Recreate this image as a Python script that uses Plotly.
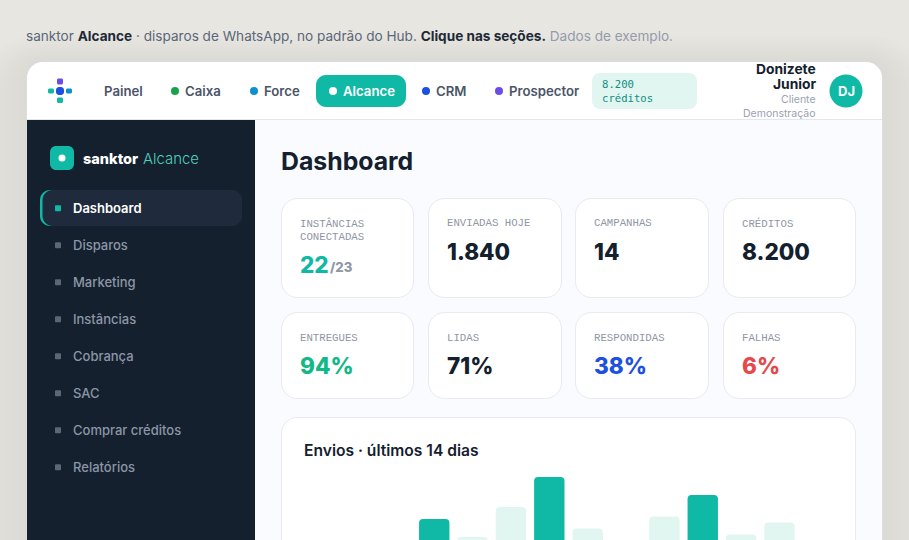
import plotly.graph_objects as go

W, H = 909, 540

# ---- data ----
dias = [f"D{i}" for i in range(1, 15)]
envios = [30, 44, 40, 65, 50, 75, 100, 57, 42, 67, 85, 52, 62, 38]
dias_destaque = ["D4", "D7", "D11"]
nav_itens = ["Painel", "Caixa", "Force", "Alcance", "CRM", "Prospector"]
menu_itens = ["Dashboard", "Disparos", "Marketing", "Instâncias", "Cobrança", "SAC", "Comprar créditos", "Relatórios"]
kpi_rotulos = [["INSTÂNCIAS<br>CONECTADAS", "ENVIADAS HOJE", "CAMPANHAS", "CRÉDITOS"],
               ["ENTREGUES", "LIDAS", "RESPONDIDAS", "FALHAS"]]
kpi_valores = [["22", "1.840", "14", "8.200"], ["94%", "71%", "38%", "6%"]]

BODY = "Inter"
HEAD = "Inter"
MONO = "DejaVu Sans Mono"
LABEL = "Liberation Mono"
TEAL = "#10b9a5"
INK = "#14202e"

shapes, notes = [], []

def px(x): return x / W
def py(y): return 1 - y / H

def rrect(x0, y0, x1, y1, r, fill, line=None, lw=1, opacity=None):
    k = r * 0.45
    p = (f"M{px(x0+r)},{py(y0)} L{px(x1-r)},{py(y0)} "
         f"C{px(x1-k)},{py(y0)} {px(x1)},{py(y0+k)} {px(x1)},{py(y0+r)} "
         f"L{px(x1)},{py(y1-r)} C{px(x1)},{py(y1-k)} {px(x1-k)},{py(y1)} {px(x1-r)},{py(y1)} "
         f"L{px(x0+r)},{py(y1)} C{px(x0+k)},{py(y1)} {px(x0)},{py(y1-k)} {px(x0)},{py(y1-r)} "
         f"L{px(x0)},{py(y0+r)} C{px(x0)},{py(y0+k)} {px(x0+k)},{py(y0)} {px(x0+r)},{py(y0)} Z")
    s = dict(type="path", xref="paper", yref="paper", path=p, fillcolor=fill, layer="below",
             line=dict(color=line, width=lw) if line else dict(width=0))
    if opacity is not None:
        s["opacity"] = opacity
    shapes.append(s)

def rect(x0, y0, x1, y1, fill):
    shapes.append(dict(type="rect", xref="paper", yref="paper", x0=px(x0), x1=px(x1), y0=py(y1), y1=py(y0),
                       fillcolor=fill, line=dict(width=0), layer="below"))

def dot(cx, cy, r, fill):
    shapes.append(dict(type="circle", xref="paper", yref="paper", x0=px(cx-r), x1=px(cx+r), y0=py(cy+r), y1=py(cy-r),
                       fillcolor=fill, line=dict(width=0), layer="below"))

def text(x, y, s, size, color, family=BODY, weight=400, anchor="left"):
    notes.append(dict(x=px(x), y=py(y), xref="paper", yref="paper", text=s, showarrow=False,
                      xanchor=anchor, yanchor="middle", align=anchor, borderpad=0, borderwidth=0,
                      font=dict(family=family, size=size, color=color, weight=weight)))

# page shadow
for i in range(12):
    g = 60 - i * 5
    rrect(27 - g, 62 - g * 0.45, 882 + g, 700, 16 + g, "#5b5a50", opacity=0.0085)

# intro line
text(26, 36, ("<span style='color:#5b6678'>sanktor </span><b style='color:#1f2937'>Alcance</b>"
              "<span style='color:#5b6678'> · disparos de WhatsApp, no padrão do Hub. </span>"
              "<b style='color:#1f2937'>Clique nas seções.</b><span style='color:#949bab'> Dados de exemplo.</span>"),
     13.6, "#5b6678")

# app frame
rrect(26.5, 61.5, 882.5, 640, 16.5, "#dde1e8")
rrect(27, 62, 882, 640, 16, "#ffffff")
rect(27, 119, 882, 120, "#e3e7ec")
rect(255, 120, 882, 540, "#fafbfe")
rect(27, 120, 255, 540, INK)

# top bar logo
rrect(57, 78.5, 63, 84.5, 1.5, "#6c4ce8")
rrect(48, 88.5, 54, 93.5, 1.5, TEAL)
rrect(56, 87, 64, 95, 3, "#1d4fe0")
rrect(66, 88.5, 72, 93.5, 1.5, "#0e8fd0")
rrect(57, 97.5, 63, 103, 1.5, TEAL)

# nav
rrect(316, 75, 406, 107, 10, TEAL)
nav_x = [104, 185, 264, 343, 436, 509]
nav_dot = [None, "#16a34a", "#0e8fd0", "#ffffff", "#1d4fe0", "#6c4ce8"]
for item, x, c in zip(nav_itens, nav_x, nav_dot):
    text(x, 91, item, 13.2, "#ffffff" if item == "Alcance" else "#4b5568", weight=600)
    if c:
        dot(x - 10, 91, 4, c)

# credits chip
rrect(592, 73, 697, 109, 8, "#e1f5f1")
text(602, 84.5, "8.200", 10.6, "#0f8f7f", MONO)
text(602, 98.5, "créditos", 10.6, "#0f8f7f", MONO)

# user
text(816, 68.5, "Donizete", 13.8, INK, weight=700, anchor="right")
text(816, 84.5, "Junior", 13.8, INK, weight=700, anchor="right")
text(816, 99.5, "Cliente", 10.5, "#9aa1b0", anchor="right")
text(816, 113.5, "Demonstração", 10.5, "#9aa1b0", anchor="right")
dot(846, 91, 16.5, TEAL)
text(846, 91, "DJ", 13, "#ffffff", weight=700, anchor="center")

# sidebar
rrect(50, 146, 74, 170, 6, TEAL)
dot(62, 158, 3.5, "#ffffff")
text(83, 158.5, "sanktor", 14.5, "#ffffff", weight=800)
text(143, 158.5, "Alcance", 14.9, "#4fd1bd", weight=300)
rrect(40, 190, 60, 226, 10, TEAL)
rrect(42.5, 190, 242, 226, 10, "#1f2b3d")
for i, item in enumerate(menu_itens):
    y = 208.3 + 37 * i
    rrect(55, y - 3, 61, y + 3, 0.8, TEAL if i == 0 else "#5b6676")
    text(73, y - 0.3, item, 13, "#ffffff" if i == 0 else "#8c96a6", weight=600 if i == 0 else 500)

# title
text(281, 161, "Dashboard", 24.8, INK, HEAD, 700)

# KPI cards
col_x = [(281, 414), (428, 562), (575, 709), (723, 856)]
row_y = [(198, 298), (312, 399)]
lab_y = [(223, 237), (337.5, None)]
val_y = [251, 365]
val_col = [[TEAL, INK, INK, INK], ["#12b886", INK, "#1d4fe0", "#e5484d"]]
for r in range(2):
    for c in range(4):
        x0, x1 = col_x[c]
        rrect(x0 + .5, row_y[r][0] + .5, x1 - .5, row_y[r][1] - .5, 16, "#ffffff", "#e7eaf0")
        parts = kpi_rotulos[r][c].split("<br>")
        for j, p in enumerate(parts):
            text(x0 + 19, lab_y[r][j], p, 10.7, "#8f96a5", LABEL)
        vy = val_y[r] + (13 if (r, c) == (0, 0) else 0)
        text(x0 + 19, vy, kpi_valores[r][c], 22.5, val_col[r][c], HEAD, 800)
text(329.5, 267, "/23", 13.2, "#8f96a5", HEAD, 800)

# chart panel
rrect(281.5, 417.5, 855.5, 640, 16, "#ffffff", "#e7eaf0")
text(304, 450, "Envios · últimos 14 dias", 15.6, INK, BODY, 600)

# chart (the window crops the bars, whose base lies below the fold)
colors = [TEAL if d in dias_destaque else "#e1f5f1" for d in dias]
fig = go.Figure(go.Bar(x=dias, y=envios, marker=dict(color=colors, line=dict(width=0), cornerradius=4),
                       hovertemplate="%{x}: %{y}<extra></extra>"))
fig.update_layout(
    width=W, height=H, autosize=False, margin=dict(l=0, r=0, t=0, b=0),
    paper_bgcolor="#e7e6e1", plot_bgcolor="rgba(0,0,0,0)",
    shapes=shapes, annotations=notes, showlegend=False, bargap=0.208,
    xaxis=dict(domain=[px(300), px(837)], range=[-0.5, 13.5], type="category", visible=False, fixedrange=True),
    yaxis=dict(domain=[0, py(470)], range=[47.5, 105.83], visible=False, fixedrange=True),
)
fig.write_html("out.html", config=dict(displayModeBar=False),
               post_script="document.body.style.margin='0';document.documentElement.style.overflow='hidden';")
